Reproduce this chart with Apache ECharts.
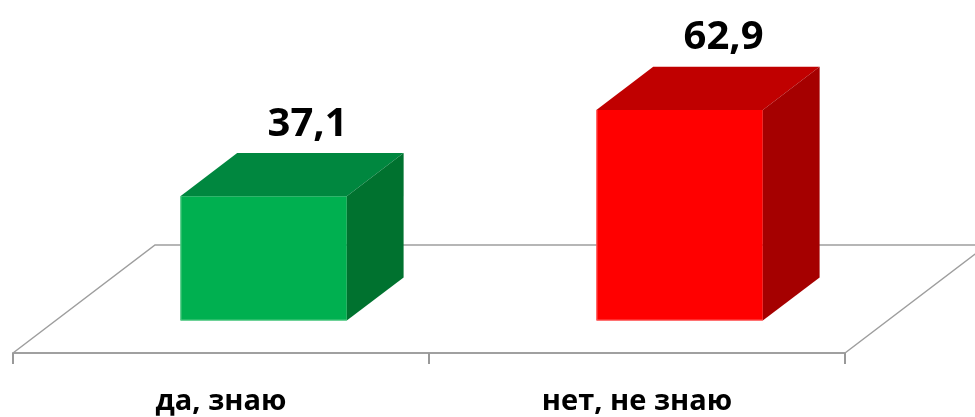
<!DOCTYPE html>
<html><head><meta charset="utf-8">
<script src="https://cdn.jsdelivr.net/npm/echarts@6/dist/echarts.min.js"></script>
<style>html,body{margin:0;padding:0;background:#fff}#c{width:975px;height:417px}</style>
</head><body><div id="c"></div>
<script>
// ---- data ----
const categories = ['да, знаю', 'нет, не знаю'];
const values = [37.1, 62.9];
const valueLabels = values.map(v => v.toFixed(1).replace('.', ','));

// ---- styles ----
const palette = [
  {front: '#00B050', top: '#00873F', side: '#00722F', edge: '#63CF8F'},
  {front: '#FF0000', top: '#C00000', side: '#A50000', edge: '#FF6B6B'}
];
const DX = 142, DY = 108;       // full floor depth projected offset (px)
const D0 = 0.3, D1 = 0.7;       // bar depth span within floor
const BAR = 0.4;                // bar width fraction of category band
const FONT = '"Open Sans", "Noto Sans", sans-serif';

function proj(x, y, d) { return [x + d * DX, y - d * DY]; }

function renderFloor(params, api) {
  const band = api.size([1, 0])[0];
  const a = api.coord([0, 0]);
  const b = api.coord([categories.length - 1, 0]);
  const left = a[0] - band / 2, right = b[0] + band / 2, y0 = a[1];
  return {
    type: 'polyline',
    shape: {points: [[left, y0], proj(left, y0, 1), proj(right, y0, 1), [right, y0]]},
    style: {stroke: '#9E9E9E', lineWidth: 1.5, fill: null},
    silent: true
  };
}

function renderBar(params, api) {
  const i = params.dataIndex;
  const col = palette[i];
  const top = api.coord([api.value(0), api.value(1)]);
  const bot = api.coord([api.value(0), 0]);
  const band = api.size([1, 0])[0];
  const hw = band * BAR / 2;
  const cx = top[0];
  const xl = cx - hw, xr = cx + hw;
  const ftl = proj(xl, top[1], D0), ftr = proj(xr, top[1], D0);
  const fbl = proj(xl, bot[1], D0), fbr = proj(xr, bot[1], D0);
  const btl = proj(xl, top[1], D1), btr = proj(xr, top[1], D1);
  const bbr = proj(xr, bot[1], D1);
  const lab = proj(cx, top[1], 0.61);
  const backTop = proj(cx, top[1], D1);
  return {
    type: 'group',
    children: [
      {type: 'polygon', shape: {points: [ftl, ftr, fbr, fbl]}, style: {fill: col.front}},
      {type: 'polygon', shape: {points: [ftl, btl, btr, ftr]}, style: {fill: col.top}},
      {type: 'polygon', shape: {points: [ftr, btr, bbr, fbr]}, style: {fill: col.side}},
      {type: 'polyline', shape: {points: [[ftl[0] + 0.5, ftl[1]], [fbl[0] + 0.5, fbl[1] - 0.5], [fbr[0], fbr[1] - 0.5]]},
        style: {stroke: col.edge, lineWidth: 1, fill: null}},
      {type: 'text', x: lab[0], y: backTop[1] - 29,
        style: {text: valueLabels[i], fill: '#000', font: 'bold 40px ' + FONT,
          align: 'center', verticalAlign: 'middle'}}
    ]
  };
}

const chart = echarts.init(document.getElementById('c'));
chart.setOption({
  animation: false,
  backgroundColor: '#fff',
  grid: {left: 13, right: 130, top: 18, bottom: 64},
  xAxis: {
    type: 'category', data: categories, boundaryGap: true,
    axisLine: {show: true, lineStyle: {color: '#A0A0A0', width: 2}},
    axisTick: {show: true, length: 11, lineStyle: {color: '#999999', width: 2}},
    axisLabel: {margin: 49, fontSize: 29, fontWeight: 'bold', fontFamily: FONT, color: '#000', verticalAlign: 'middle'},
    splitLine: {show: false}
  },
  yAxis: {type: 'value', min: 0, max: 100, show: false},
  series: [
    {type: 'custom', renderItem: renderFloor, data: [[0, 0]], z: 1, silent: true},
    {type: 'custom', renderItem: renderBar, data: values.map((v, i) => [i, v]), z: 2, clip: false}
  ]
});
</script></body></html>
